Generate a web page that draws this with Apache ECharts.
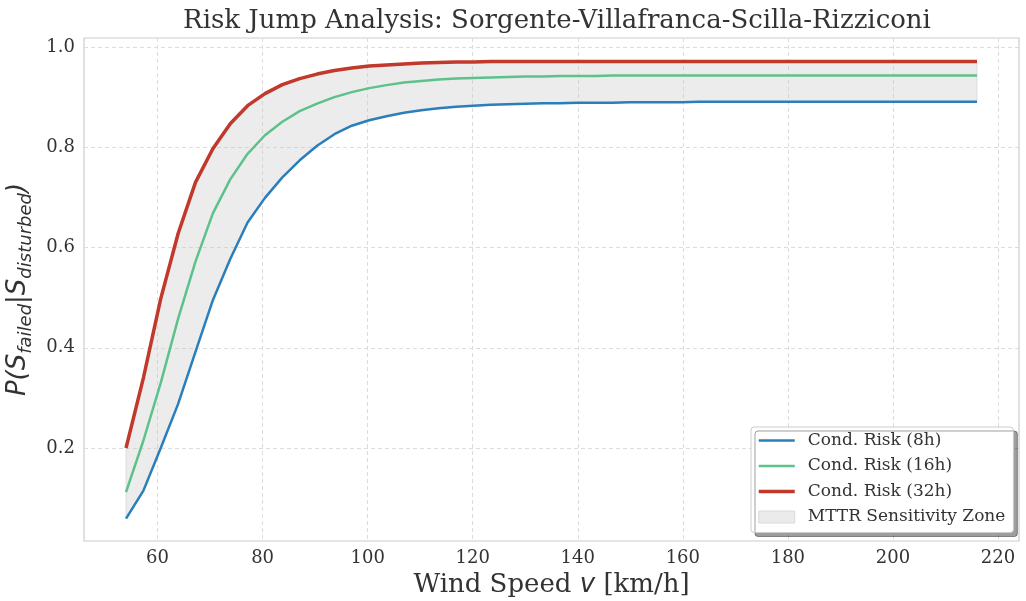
<!DOCTYPE html>
<html>
<head>
<meta charset="utf-8">
<script src="https://cdn.jsdelivr.net/npm/echarts@6/dist/echarts.min.js"></script>
<style>
html, body { margin: 0; padding: 0; background: #fff; }
#main { width: 1026px; height: 601px; }
</style>
</head>
<body>
<div id="main"></div>
<script>
// wind speed samples (km/h)
var speeds = [54.00, 57.31, 60.61, 63.92, 67.22, 70.53, 73.84, 77.14, 80.45, 83.76,
    87.06, 90.37, 93.67, 96.98, 100.29, 103.59, 106.90, 110.20, 113.51, 116.82,
    120.12, 123.43, 126.73, 130.04, 133.35, 136.65, 139.96, 143.27, 146.57, 149.88,
    153.18, 156.49, 159.80, 163.10, 166.41, 169.71, 173.02, 176.33, 179.63, 182.94,
    186.24, 189.55, 192.86, 196.16, 199.47, 202.78, 206.08, 209.39, 212.69, 216.00];

// conditional risk, MTTR 8h
var risk8 = [0.059, 0.115, 0.200, 0.288, 0.392, 0.495, 0.577, 0.650, 0.699, 0.740,
    0.774, 0.803, 0.826, 0.843, 0.854, 0.862, 0.869, 0.874, 0.878, 0.881,
    0.883, 0.885, 0.886, 0.887, 0.888, 0.888, 0.889, 0.889, 0.889, 0.890,
    0.890, 0.890, 0.890, 0.891, 0.891, 0.891, 0.891, 0.891, 0.891, 0.891,
    0.891, 0.891, 0.891, 0.891, 0.891, 0.891, 0.891, 0.891, 0.891, 0.891];

// MTTR 16h
var risk16 = [0.112, 0.215, 0.330, 0.458, 0.572, 0.668, 0.736, 0.787, 0.824, 0.851,
    0.872, 0.887, 0.900, 0.910, 0.918, 0.924, 0.929, 0.932, 0.935, 0.937,
    0.938, 0.939, 0.940, 0.941, 0.941, 0.942, 0.942, 0.942, 0.943, 0.943,
    0.943, 0.943, 0.943, 0.943, 0.943, 0.943, 0.943, 0.943, 0.943, 0.943,
    0.943, 0.943, 0.943, 0.943, 0.943, 0.943, 0.943, 0.943, 0.943, 0.943];

// MTTR 32h
var risk32 = [0.200, 0.340, 0.498, 0.628, 0.730, 0.797, 0.847, 0.883, 0.907, 0.925,
    0.937, 0.946, 0.953, 0.958, 0.962, 0.964, 0.966, 0.968, 0.969, 0.970,
    0.970, 0.971, 0.971, 0.971, 0.971, 0.971, 0.971, 0.971, 0.971, 0.971,
    0.971, 0.971, 0.971, 0.971, 0.971, 0.971, 0.971, 0.971, 0.971, 0.971,
    0.971, 0.971, 0.971, 0.971, 0.971, 0.971, 0.971, 0.971, 0.971, 0.971];

var xTicks = [60, 80, 100, 120, 140, 160, 180, 200, 220];
var yTicks = [0.2, 0.4, 0.6, 0.8, 1.0];

var seriesNames = ['Cond. Risk (8h)', 'Cond. Risk (16h)', 'Cond. Risk (32h)', 'MTTR Sensitivity Zone'];

function pairs(ys) {
    return speeds.map(function (x, i) { return [x, ys[i]]; });
}

// band rows: x, lower, upper
var bandData = speeds.map(function (x, i) { return [x, risk8[i], risk32[i]]; });

var serif = 'DejaVu Serif';
var dash = { color: '#dcdcdc', type: [4, 3], width: 1 };
var hideDot = { opacity: 0 };

var chart = echarts.init(document.getElementById('main'));
var option = {
    backgroundColor: '#ffffff',
    animation: false,
    title: {
        text: 'Risk Jump Analysis: Sorgente-Villafranca-Scilla-Rizziconi',
        left: 552, top: 3, textAlign: 'center',
        textStyle: { fontFamily: serif, fontSize: 26, fontWeight: 'normal', color: '#333' }
    },
    grid: {
        left: 84, right: 7, top: 38, bottom: 60,
        containLabel: false, outerBoundsMode: 'none',
        show: true, borderColor: '#cccccc', borderWidth: 1.2, backgroundColor: 'transparent'
    },
    legend: {
        left: 751, top: 427,
        orient: 'vertical',
        data: [
            { name: seriesNames[0], itemStyle: hideDot, lineStyle: { width: 2.5 } },
            { name: seriesNames[1], itemStyle: hideDot, lineStyle: { width: 2.5 } },
            { name: seriesNames[2], itemStyle: hideDot, lineStyle: { width: 3.5 } },
            { name: seriesNames[3], icon: 'rect', itemStyle: { color: '#ebebeb', borderColor: '#dadada', borderWidth: 1 } }
        ],
        itemWidth: 36, itemHeight: 12, itemGap: 6.5,
        padding: [4, 8, 6, 6],
        backgroundColor: '#ffffff',
        borderColor: '#cccccc', borderWidth: 1, borderRadius: 3,
        shadowColor: 'rgba(0,0,0,0.38)', shadowBlur: 0, shadowOffsetX: 4, shadowOffsetY: 4,
        textStyle: { fontFamily: serif, fontSize: 17, lineHeight: 19, color: '#333', padding: [0, 0, 0, 8] }
    },
    xAxis: {
        type: 'value', min: 46, max: 224,
        name: '{a|Wind Speed }{v|v}{a| [km/h]}',
        nameLocation: 'middle', nameGap: 30,
        nameTextStyle: {
            rich: {
                a: { fontFamily: serif, fontSize: 26, color: '#333' },
                v: { fontFamily: 'DejaVu Sans', fontStyle: 'italic', fontSize: 26, color: '#333' }
            }
        },
        axisLine: { show: false },
        axisTick: { show: false, customValues: xTicks },
        axisLabel: { customValues: xTicks, fontFamily: serif, fontSize: 18, color: '#333', margin: 8 },
        splitLine: { show: true, lineStyle: dash }
    },
    yAxis: {
        type: 'value', min: 0.0145, max: 1.018,
        name: '{m|P(S}{s|failed}{m||S}{s|disturbed}{m|)}',
        nameLocation: 'middle', nameGap: 46, nameRotate: 90,
        nameTextStyle: {
            rich: {
                m: { fontFamily: 'DejaVu Sans', fontStyle: 'italic', fontSize: 26, color: '#333', lineHeight: 34, verticalAlign: 'middle' },
                s: { fontFamily: 'DejaVu Sans', fontStyle: 'italic', fontSize: 18, color: '#333', lineHeight: 16, verticalAlign: 'bottom' }
            }
        },
        axisLine: { show: false },
        axisTick: { show: false, customValues: yTicks },
        axisLabel: {
            customValues: yTicks, fontFamily: serif, fontSize: 18, color: '#333', margin: 9,
            formatter: function (v) { return v.toFixed(1); }
        },
        splitLine: { show: true, lineStyle: dash }
    },
    series: [
        {
            name: seriesNames[3],
            type: 'custom',
            z: 1,
            itemStyle: { color: '#ebebeb' },
            data: bandData,
            renderItem: function (params, api) {
                if (params.dataIndex !== 0) return;
                var top = [], bottom = [];
                for (var i = 0; i < bandData.length; i++) {
                    top.push(api.coord([bandData[i][0], bandData[i][2]]));
                    bottom.unshift(api.coord([bandData[i][0], bandData[i][1]]));
                }
                return {
                    type: 'polygon',
                    shape: { points: top.concat(bottom) },
                    style: { fill: 'rgba(200,200,200,0.35)', stroke: 'rgba(200,200,200,0.5)', lineWidth: 1 },
                    silent: true
                };
            }
        },
        {
            name: seriesNames[0], type: 'line', data: pairs(risk8), symbol: 'none', z: 3,
            itemStyle: { color: '#2a7fba' },
            lineStyle: { color: '#2a7fba', width: 2.5 }
        },
        {
            name: seriesNames[1], type: 'line', data: pairs(risk16), symbol: 'none', z: 3,
            itemStyle: { color: '#5dc18b' },
            lineStyle: { color: '#5dc18b', width: 2.5 }
        },
        {
            name: seriesNames[2], type: 'line', data: pairs(risk32), symbol: 'none', z: 4,
            itemStyle: { color: '#c0392b' },
            lineStyle: { color: '#c0392b', width: 3.5 }
        }
    ]
};
chart.setOption(option);
</script>
</body>
</html>
